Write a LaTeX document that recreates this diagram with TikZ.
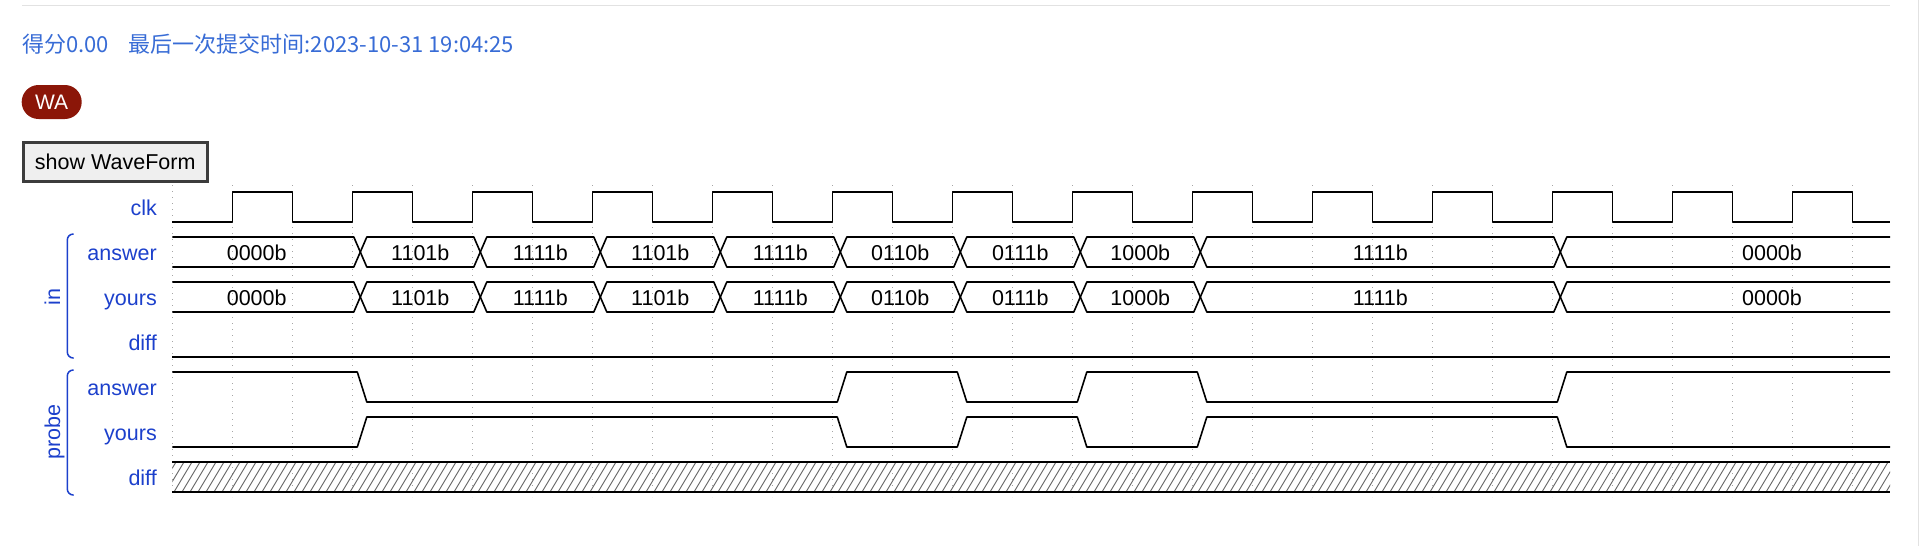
\documentclass[tikz,border=0pt]{standalone}
\usepackage{fontspec}
\setmainfont{Liberation Sans}
\newfontfamily\cjkfont{Noto Sans CJK SC}
\usepackage{tikz}
\usetikzlibrary{positioning, calc}
\definecolor{sigblue}{RGB}{28,64,204}
\definecolor{headblue}{RGB}{56,108,214}
\definecolor{wared}{RGB}{139,22,8}
\definecolor{rulegray}{RGB}{226,226,226}
\definecolor{btnfill}{RGB}{239,239,239}
\definecolor{btnedge}{RGB}{60,60,60}
\newcommand{\wavefont}{\fontsize{21.5}{24}\selectfont}
\newcommand{\risex}[1]{(232.3+120*#1)}
\tikzset{
  wave/.style     = {line width=1.6pt, black, line join=round},
  gridln/.style   = {line width=1pt, black!35, dash pattern=on 1pt off 5pt},
  hatch/.style    = {line width=0.9pt, black!60},
  siglbl/.style   = {anchor=base east, inner sep=0pt, text=sigblue, font=\wavefont},
  grplbl/.style   = {anchor=base, rotate=90, inner sep=0pt, text=sigblue, font=\wavefont},
  busval/.style   = {anchor=base, inner sep=0pt, font=\wavefont},
  grpbrace/.style = {sigblue, line width=1.5pt, rounded corners=6pt},
  badge/.style    = {fill=wared, rounded corners=16.9pt, minimum width=60pt,
                     minimum height=34pt, inner sep=0pt, text=white,
                     font=\fontsize{21}{24}\selectfont},
  button/.style   = {draw=btnedge, line width=3pt, fill=btnfill, minimum width=183.8pt,
                     minimum height=39.3pt, inner sep=0pt, font=\wavefont},
}

\begin{document}
\begin{tikzpicture}[x=1pt, y=-1pt]
  \path[use as bounding box, fill=white] (0,0) rectangle (1927,546);

  \draw[rulegray, line width=1.3pt] (22,5.3) -- (1890,5.3);
  \draw[rulegray, line width=1.3pt] (1918.3,0) -- (1918.3,546);

  \node[anchor=base west, inner sep=0pt, text=headblue, font=\cjkfont\fontsize{22}{26}\selectfont]
    (score) at (22,52.5) {得分0.00~~~\hspace{5pt}最后一次提交时间:2023-10-31 19:04:25};
  \node[badge] (wa) at (51.7,102) {WA};
  \node[button] (show) at (115.2,162.2) {show WaveForm};

  \foreach \k in {0,...,28}
    \draw[gridln] ({172.3+60*\k},185) -- ({172.3+60*\k},497);

  \node[siglbl] (lclk)    at (157,215)   {clk};
  \node[siglbl] (linans)  at (157,260)   {answer};
  \node[siglbl] (linyrs)  at (157,305)   {yours};
  \node[siglbl] (lindiff) at (157,350)   {diff};
  \node[siglbl] (lpans)   at (157,395)   {answer};
  \node[siglbl] (lpyrs)   at (157,440)   {yours};
  \node[siglbl] (lpdiff)  at (157,485)   {diff};

  \node[grplbl] (gin)    at (60,296.7) {in};
  \node[grplbl] (gprobe) at (60,431.7) {probe};
  \draw[grpbrace] (73.5,234) -- (67.3,234) -- (67.3,358) -- (73.5,358);
  \draw[grpbrace] (73.5,370) -- (67.3,370) -- (67.3,495) -- (73.5,495);

  \draw[wave] (172.3,222) \foreach \k in {0,...,13} { -| ({\risex{\k}},192) -| ({\risex{\k}+60},222) } -- (1890,222);

  \foreach \ya/\nm in {252/ia, 297/iy} {
    \draw[wave] (172.3,\ya-15) -- (353.8,\ya-15) -- (360.3,\ya) -- (353.8,\ya+15) -- (172.3,\ya+15);
    \node[busval] (\nm-0) at (256.7,\ya+8) {0000b};
    \foreach \a/\b/\v in {1/2/1101b, 2/3/1111b, 3/4/1101b, 4/5/1111b,
                          5/6/0110b, 6/7/0111b, 7/8/1000b, 8/11/1111b} {
      \draw[wave] ({\risex{\a}+8},\ya) -- ({\risex{\a}+14.5},\ya-15) -- ({\risex{\b}+1.5},\ya-15)
        -- ({\risex{\b}+8},\ya) -- ({\risex{\b}+1.5},\ya+15) -- ({\risex{\a}+14.5},\ya+15) -- cycle;
      \node[busval] (\nm-\a) at ({240.3+60*(\a+\b)},\ya+8) {\v};
    }
    \draw[wave] (1890,\ya-15) -- (1566.8,\ya-15) -- (1560.3,\ya) -- (1566.8,\ya+15) -- (1890,\ya+15);
    \node[busval] (\nm-11) at (1772,\ya+8) {0000b};
  }
  \draw[wave] (172.3,357) -- (1890,357);

  \draw[wave] (172.3,372) -- ({\risex{1}+5},372) -- ({\risex{1}+14.5},402)
    -- ({\risex{5}+5},402) -- ({\risex{5}+14.5},372) -- ({\risex{6}+5},372) -- ({\risex{6}+14.5},402)
    -- ({\risex{7}+5},402) -- ({\risex{7}+14.5},372) -- ({\risex{8}+5},372) -- ({\risex{8}+14.5},402)
    -- ({\risex{11}+5},402) -- ({\risex{11}+14.5},372) -- (1890,372);
  \draw[wave] (172.3,447) -- ({\risex{1}+5},447) -- ({\risex{1}+14.5},417)
    -- ({\risex{5}+5},417) -- ({\risex{5}+14.5},447) -- ({\risex{6}+5},447) -- ({\risex{6}+14.5},417)
    -- ({\risex{7}+5},417) -- ({\risex{7}+14.5},447) -- ({\risex{8}+5},447) -- ({\risex{8}+14.5},417)
    -- ({\risex{11}+5},417) -- ({\risex{11}+14.5},447) -- (1890,447);

  \begin{scope}
    \clip (172.3,462) rectangle (1890,492);
    \foreach \hx in {150,158,...,1900}
      \draw[hatch] (\hx,492) -- ++(18,-30);
  \end{scope}
  \draw[wave] (172.3,462) -- (1890,462);
  \draw[wave] (172.3,492) -- (1890,492);
\end{tikzpicture}
\end{document}
